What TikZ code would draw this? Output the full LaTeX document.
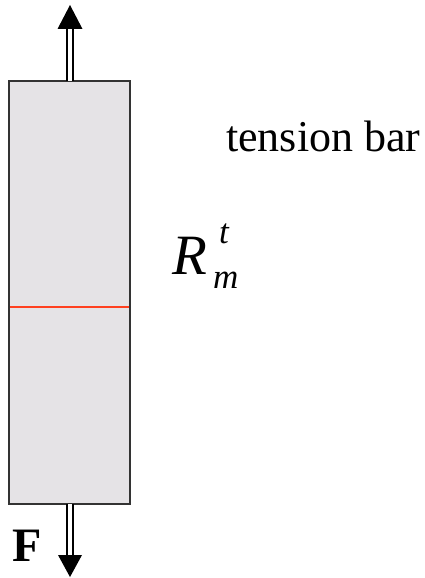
\documentclass[tikz,border=0pt]{standalone}
\usepackage{fontspec}
\setmainfont{Liberation Serif}
\definecolor{bargray}{RGB}{229,227,230}
\definecolor{redline}{RGB}{255,64,32}
\begin{document}
\begin{tikzpicture}[x=1pt,y=-1pt,
  barbox/.style={draw=black!80,line width=2pt,fill=bargray,inner sep=0pt,outer sep=0pt},
  shaft/.style={draw=black,line width=2pt,double=white,double distance=3.5pt},
  head/.style={fill=black,draw=none},
  lbl/.style={inner sep=0pt,anchor=base west}]
\useasboundingbox (0,0) rectangle (425,578);
\node[barbox,minimum width=121pt,minimum height=423pt] (bar) at (69.5,292.5) {};
\coordinate (topbase) at (70,29);
\coordinate (topend) at (70,5);
\coordinate (botbase) at (70,555);
\coordinate (botend) at (70,577);
\coordinate (redL) at (10,307);
\coordinate (redR) at (129,307);
\draw[redline,line width=2pt] (redL) -- (redR);
\draw[shaft] (bar.north -| topbase) -- (topbase);
\fill[head] ([xshift=-12.5pt]topbase) -- ([xshift=12.5pt]topbase) -- (topend) -- cycle;
\draw[shaft] (bar.south -| botbase) -- (botbase);
\fill[head] ([xshift=-12pt]botbase) -- ([xshift=12pt]botbase) -- (botend) -- cycle;
\node[lbl] (title) at (226,151) {\fontsize{44}{44}\selectfont tension bar};
\node[lbl] (rm) at (172,274) {\fontsize{57}{57}\selectfont\itshape R\hspace{12pt}\rlap{\raisebox{31pt}{\fontsize{35}{35}\selectfont t}}\hspace{-6pt}\raisebox{-14pt}{\fontsize{35}{35}\selectfont m}};
\node[lbl] (F) at (12,561) {\fontsize{48}{48}\selectfont\bfseries F};
\end{tikzpicture}
\end{document}
